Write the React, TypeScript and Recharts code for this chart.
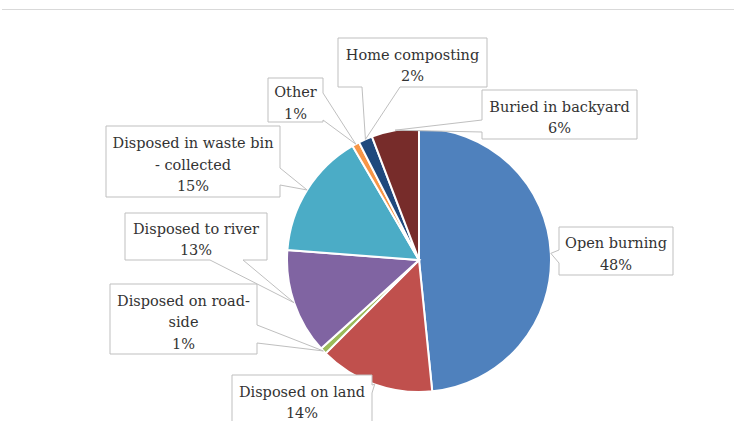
import React from "react";
import { PieChart, Pie, Cell } from "recharts";

const CATEGORIES = [
  "Open burning",
  "Disposed on land",
  "Disposed on road-side",
  "Disposed to river",
  "Disposed in waste bin - collected",
  "Other",
  "Home composting",
  "Buried in backyard",
];
const VALUES = [48.4, 14.1, 0.8, 12.9, 15.4, 0.9, 1.7, 5.8];
const COLORS = ["#4F81BD", "#C0504D", "#9BBB59", "#8064A2", "#4BACC6", "#F79646", "#1F497D", "#772C2A"];
const LABEL_TEXT = [
  "Open burning",
  "Disposed on land",
  "Disposed on road-|side",
  "Disposed to river",
  "Disposed in waste bin|- collected",
  "Other",
  "Home composting",
  "Buried in backyard",
];

// label callout layout: box offset from pie centre, size, tail edge and tail base along that edge
const LABEL_LAYOUT = [
  { dx: 140, dy: -33, w: 114, h: 48, edge: "left", b1: 23, b2: 36 },
  { dx: -187, dy: 115, w: 140, h: 49, edge: "right", b1: 10, b2: 18 },
  { dx: -309, dy: 24, w: 147, h: 70, edge: "right", b1: 41, b2: 59 },
  { dx: -294, dy: -47, w: 142, h: 47, edge: "bottom", b1: 85, b2: 118 },
  { dx: -313, dy: -134, w: 174, h: 71, edge: "right", b1: 42, b2: 59 },
  { dx: -151, dy: -182, w: 55, h: 44, edge: "right", b1: 15, b2: 42 },
  { dx: -81, dy: -222, w: 149, h: 49, edge: "bottom", b1: 24, b2: 62 },
  { dx: 63, dy: -170, w: 155, h: 49, edge: "left", b1: 30, b2: 42 },
];

const data = CATEGORIES.map((name, i) => ({ name, value: VALUES[i] }));

const RAD = Math.PI / 180;
const FONT = "'DejaVu Serif', serif";

function calloutPath(x: number, y: number, w: number, h: number, edge: string, b1: number, b2: number, px: number, py: number) {
  const pts: [number, number][] = [];
  pts.push([x, y]);
  if (edge === "top") pts.push([x + b1, y], [px, py], [x + b2, y]);
  pts.push([x + w, y]);
  if (edge === "right") pts.push([x + w, y + b1], [px, py], [x + w, y + b2]);
  pts.push([x + w, y + h]);
  if (edge === "bottom") pts.push([x + b2, y + h], [px, py], [x + b1, y + h]);
  pts.push([x, y + h]);
  if (edge === "left") pts.push([x, y + b2], [px, py], [x, y + b1]);
  return "M" + pts.map((p) => `${p[0]},${p[1]}`).join("L") + "Z";
}

const renderLabel = (props: any) => {
  const { cx, cy, midAngle, outerRadius, index, percent } = props;
  const L = LABEL_LAYOUT[index];
  const px = cx + outerRadius * Math.cos(-midAngle * RAD);
  const py = cy + outerRadius * Math.sin(-midAngle * RAD);
  const x = cx + L.dx;
  const y = cy + L.dy;
  const lines = [...LABEL_TEXT[index].split("|"), `${Math.round(percent * 100)}%`];
  const lh = 21.5;
  const mid = y + L.h / 2;
  const first = mid - ((lines.length - 1) * lh) / 2 + 8;
  return (
    <g key={`lbl-${index}`}>
      <path d={calloutPath(x, y, L.w, L.h, L.edge, L.b1, L.b2, px, py)} fill="#ffffff" stroke="#BFBFBF" strokeWidth={1} />
      {lines.map((t, i) => (
        <text
          key={i}
          x={x + L.w / 2}
          y={first + i * lh}
          textAnchor="middle"
          fontFamily={FONT}
          fontSize={14.5}
          fill="#333333"
        >
          {t}
        </text>
      ))}
    </g>
  );
};

export default function App() {
  return (
    <div style={{ position: "absolute", left: 0, top: 0, width: 734, height: 421, background: "#ffffff", overflow: "hidden" }}>
      <div style={{ position: "absolute", left: 2, top: 9, width: 732, height: 0, borderTop: "1px solid #D9D9D9" }} />
      <PieChart
        width={734}
        height={421}
        margin={{ top: 0, right: 0, bottom: 0, left: 0 }}
        style={{ position: "absolute", left: 0, top: 0 }}
      >
        <Pie
          data={data}
          dataKey="value"
          nameKey="name"
          cx={419}
          cy={260}
          outerRadius={132}
          startAngle={90}
          endAngle={-270}
          stroke="#ffffff"
          strokeWidth={2}
          label={renderLabel}
          labelLine={false}
          isAnimationActive={false}
        >
          {data.map((d, i) => (
            <Cell key={d.name} fill={COLORS[i]} />
          ))}
        </Pie>
      </PieChart>
    </div>
  );
}
